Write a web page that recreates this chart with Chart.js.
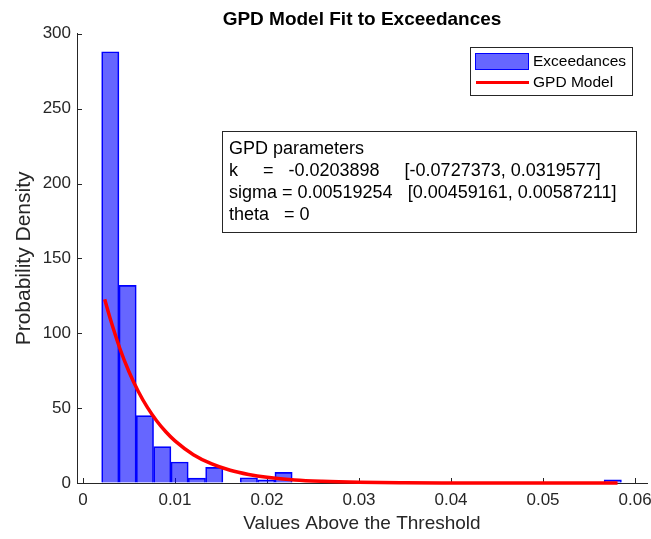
<!DOCTYPE html>
<html>
<head>
<meta charset="utf-8">
<script src="https://cdn.jsdelivr.net/npm/chart.js@4.4.0/dist/chart.umd.min.js"></script>
<style>
    html, body { margin: 0; padding: 0; background: #fff; }
    #wrap { width: 651px; height: 539px; }
</style>
</head>
<body>
<div id="wrap"><canvas id="gpdChart" width="651" height="539"></canvas></div>
<script>
// histogram of the exceedances (bin centres, density)
const binCenters = [0.00297, 0.00485, 0.00673, 0.00862, 0.01050, 0.01238, 0.01427, 0.01615, 0.01803, 0.01992,
                    0.02180, 0.02368, 0.02557, 0.02745, 0.02933, 0.03122, 0.03310, 0.03498, 0.03687, 0.03875,
                    0.04063, 0.04252, 0.04440, 0.04628, 0.04817, 0.05005, 0.05193, 0.05382, 0.05570, 0.05758];
const binDensity = [288, 132, 45, 24.3, 14, 3.3, 10.4, 0, 3.5, 2.2,
                    7.1, 0, 0, 1.1, 0, 0, 0, 0, 0, 0,
                    0, 0, 0, 0, 0, 0, 0, 0, 0, 2.2];

// fitted GPD density
const fitX = [0.00236, 0.003, 0.004, 0.005, 0.006, 0.007, 0.008, 0.009, 0.010, 0.012, 0.014,
              0.016, 0.018, 0.020, 0.023, 0.026, 0.030, 0.035, 0.040, 0.045, 0.050, 0.0581];
const fitY = [122.7, 109, 90, 74.3, 61.3, 50.5, 41.6, 34.2, 28.1, 18.9, 12.7,
              8.5, 5.7, 3.8, 2.0, 1.1, 0.47, 0.16, 0.05, 0.02, 0.005, 0.001];

const xTickValues = [0, 0.01, 0.02, 0.03, 0.04, 0.05, 0.06];
const yTickValues = [0, 50, 100, 150, 200, 250, 300];

const legendLabels = ['Exceedances', 'GPD Model'];
const paramLines = [
    'GPD parameters',
    'k     =   -0.0203898     [-0.0727373, 0.0319577]',
    'sigma = 0.00519254   [0.00459161, 0.00587211]',
    'theta   = 0'
];

const AXIS_COLOR = '#262626';
const FONT = '"Liberation Sans", Arial, Helvetica, sans-serif';
Chart.defaults.font.family = FONT;
Chart.defaults.color = AXIS_COLOR;

// MATLAB style ticks pointing into the axes
const inwardTicks = {
    id: 'inwardTicks',
    beforeDatasetsDraw(chart) {
        const {ctx, chartArea, scales} = chart;
        ctx.save();
        ctx.strokeStyle = AXIS_COLOR;
        ctx.lineWidth = 1;
        ctx.beginPath();
        xTickValues.forEach(v => {
            const px = Math.round(scales.x.getPixelForValue(v)) + 0.5;
            ctx.moveTo(px, chartArea.bottom);
            ctx.lineTo(px, chartArea.bottom - 5);
        });
        yTickValues.forEach(v => {
            const py = Math.round(scales.y.getPixelForValue(v)) + 0.5;
            ctx.moveTo(chartArea.left, py);
            ctx.lineTo(chartArea.left + 5, py);
        });
        ctx.stroke();
        ctx.restore();
    }
};

const legendBox = {
    id: 'legendBox',
    afterDraw(chart) {
        const ctx = chart.ctx;
        const bars = chart.data.datasets[1];
        const fit = chart.data.datasets[0];
        ctx.save();
        ctx.fillStyle = '#fff';
        ctx.fillRect(470.5, 47.5, 162, 48);
        ctx.strokeStyle = AXIS_COLOR;
        ctx.lineWidth = 1;
        ctx.strokeRect(470.5, 47.5, 162, 48);

        ctx.fillStyle = bars.backgroundColor;
        ctx.fillRect(475.5, 53.5, 53, 16);
        ctx.strokeStyle = bars.borderColor;
        ctx.strokeRect(475.5, 53.5, 53, 16);

        ctx.strokeStyle = fit.borderColor;
        ctx.lineWidth = 3;
        ctx.beginPath();
        ctx.moveTo(476, 82.5);
        ctx.lineTo(529, 82.5);
        ctx.stroke();

        ctx.fillStyle = '#000';
        ctx.font = '15.5px ' + FONT;
        ctx.textBaseline = 'middle';
        ctx.fillText(legendLabels[0], 533, 62);
        ctx.fillText(legendLabels[1], 533, 83);
        ctx.restore();
    }
};

const paramBox = {
    id: 'paramBox',
    afterDraw(chart) {
        const ctx = chart.ctx;
        ctx.save();
        ctx.fillStyle = '#fff';
        ctx.fillRect(222.5, 131.5, 414, 101);
        ctx.strokeStyle = AXIS_COLOR;
        ctx.lineWidth = 1;
        ctx.strokeRect(222.5, 131.5, 414, 101);

        ctx.fillStyle = '#000';
        ctx.font = '18px ' + FONT;
        ctx.textBaseline = 'middle';
        paramLines.forEach((line, i) => ctx.fillText(line, 229, 149 + i * 22));
        ctx.restore();
    }
};

const ctx = document.getElementById('gpdChart');
new Chart(ctx, {
    type: 'bar',
    data: {
        datasets: [
            {
                type: 'line',
                label: legendLabels[1],
                data: fitX.map((x, i) => ({x: x, y: fitY[i]})),
                borderColor: '#ff0000',
                borderWidth: 3.5,
                pointRadius: 0,
                fill: false,
                cubicInterpolationMode: 'monotone',
                clip: 6,
                order: 0
            },
            {
                type: 'bar',
                label: legendLabels[0],
                data: binCenters.map((x, i) => ({x: x, y: binDensity[i]})),
                backgroundColor: 'rgba(0, 0, 255, 0.6)',
                borderColor: '#0000ff',
                borderWidth: 1,
                barPercentage: 1,
                categoryPercentage: 1,
                order: 1
            }
        ]
    },
    options: {
        responsive: false,
        animation: false,
        devicePixelRatio: 1,
        layout: { padding: { left: 0, right: 4, top: 0, bottom: 0 } },
        plugins: {
            legend: { display: false },
            tooltip: { enabled: false },
            title: {
                display: true,
                fullSize: false,
                text: 'GPD Model Fit to Exceedances',
                color: '#000',
                font: { size: 19, weight: 'bold' },
                padding: { top: 8, bottom: 3 }
            }
        },
        scales: {
            x: {
                type: 'linear',
                min: -0.00065,
                max: 0.0613,
                offset: false,
                grid: { display: true, drawOnChartArea: false, drawTicks: false, offset: false },
                border: { display: true, color: AXIS_COLOR },
                afterBuildTicks: s => { s.ticks = xTickValues.map(v => ({value: v})); },
                afterFit: s => { s.height = 56; s.paddingLeft = 0; s.paddingRight = 0; },
                ticks: {
                    padding: 7,
                    maxRotation: 0,
                    autoSkip: false,
                    font: { size: 17 },
                    callback: v => v === 0 ? '0' : String(+v.toFixed(2))
                },
                title: {
                    display: true,
                    text: 'Values Above the Threshold',
                    font: { size: 19 },
                    padding: { top: 0, bottom: 4 }
                }
            },
            y: {
                min: 0,
                max: 300,
                grid: { display: true, drawOnChartArea: false, drawTicks: false },
                border: { display: true, color: AXIS_COLOR },
                afterBuildTicks: s => { s.ticks = yTickValues.map(v => ({value: v})); },
                afterFit: s => { s.width = 77; s.paddingTop = 0; s.paddingBottom = 0; },
                ticks: { padding: 6, font: { size: 17 } },
                title: {
                    display: true,
                    text: 'Probability Density',
                    font: { size: 21 },
                    padding: { top: 12, bottom: 0 }
                }
            }
        }
    },
    plugins: [inwardTicks, legendBox, paramBox]
});
</script>
</body>
</html>
